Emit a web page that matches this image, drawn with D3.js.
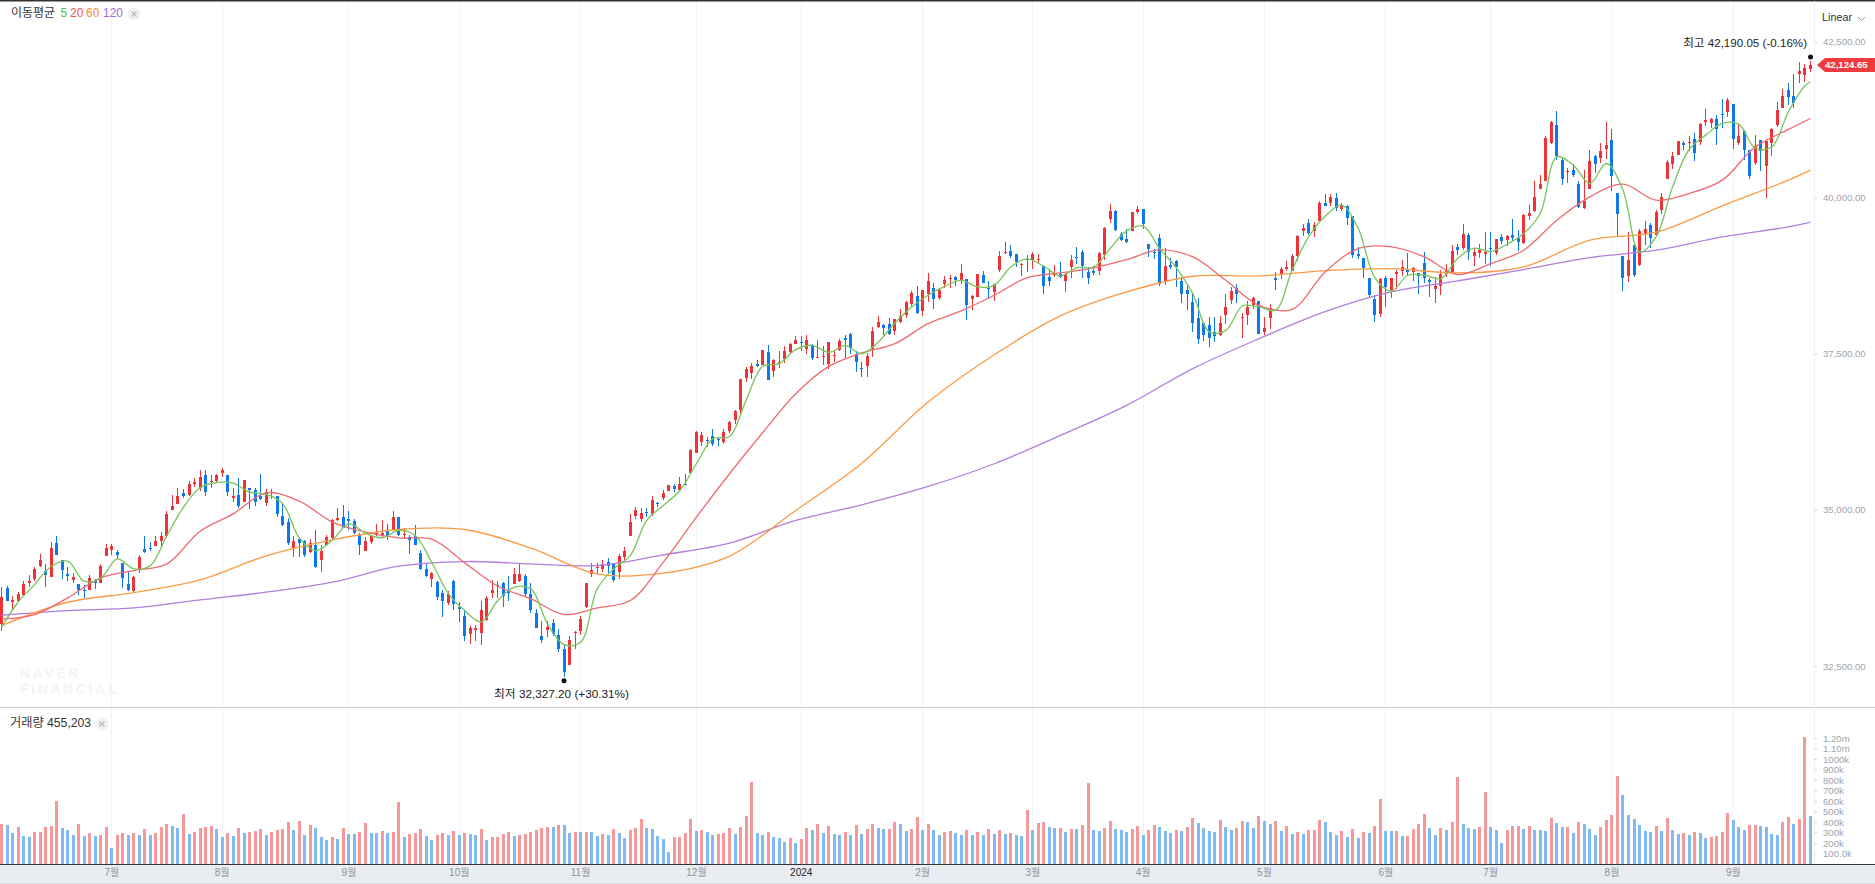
<!DOCTYPE html>
<html>
<head>
<meta charset="utf-8">
<script src="https://cdn.jsdelivr.net/npm/d3@7"></script>
<style>
    html, body { margin: 0; padding: 0; background: #fff; overflow: hidden; }
    svg { display: block; font-family: "Liberation Sans", "Noto Sans CJK KR", sans-serif; }
</style>
</head>
<body>
<svg id="chart" width="1875" height="884"></svg>
<script>
// candle data, one entry per trading day
const opens = [
    33174,33756,33532,33548,33644,33836,33901,34104,34029,33933,34462,34200,33981,33885,33820,33724,33724,33868,33836,34269,
    34365,34333,34157,33820,33698,34045,34381,34397,34414,34494,34574,34991,35087,35263,35231,35407,35343,35552,35439,35455,
    35584,35552,35183,35231,35119,35343,35311,35226,35103,35263,35215,34910,34814,34387,34526,34504,34333,34430,34205,34430,
    34542,34846,34894,34862,34830,34606,34349,34478,34606,34606,34670,34686,34894,34611,34558,34574,34317,34061,33901,33852,
    33676,33516,33868,33452,33308,33019,33083,33035,33243,33676,33804,33836,33724,33820,
    33869,33949,33660,33356,32987,33083,33196,33003,32779,32522,33035,33067,33452,33981,34077,34061,34173,34157,34013,34253,
    34574,34895,34862,34959,34927,35103,35183,35295,35375,35322,35418,35584,35904,36081,36113,36177,36129,36081,36257,36433,
    36594,37107,37187,37331,37315,37523,37219,37347,37411,37523,37652,37684,37571,37620,37433,37454,37331,37459,37555,37748,
    37812,37491,37272,37299,37571,37924,37956,37972,37860,38004,38116,38293,38421,38181,38453,38549,38389,38613,38709,38726,
    38677,38694,38384,38405,38758,38549,38485,38838,39110,39142,39094,38934,39014,38998,38998,38902,38725,38763,38774,38661,
    38886,39046,39126,38806,38822,38822,39078,39655,39783,39415,39335,39463,39767,39815,39254,39126,39351,38661,38918,38982,
    38661,38517,38325,38068,37988,37956,37844,37796,38116,38357,38549,38068,38116,38277,38341,37844,38068,38709,38758,38854,
    38822,39062,39463,39591,39463,39623,39912,39912,39992,39815,39864,39703,39094,39030,38709,38373,38132,38709,38517,38774,
    38822,38854,38806,38790,38951,38678,38534,38582,38774,38806,39207,39191,39399,39063,39111,39106,39191,39111,39367,39319,
    39399,39351,39271,39704,39784,40137,40265,40874,41163,40601,40409,40441,40217,39832,40137,40666,40634,40778,40922,40073,
    39063,38742,39239,38918,39415,39560,39399,39800,40297,40537,40682,40874,40879,40938,40890,41216,41195,41259,41339,41371,
    41499,40874,41066,40762,40553,40922,40505,40874,41163,41435,41724,41627,41980,41964,42060
];
const highs = [
    33772,33788,33628,33692,33868,33965,34082,34296,34136,34478,34574,34200,34093,33986,33820,33804,33965,33901,34136,34456,
    34456,34365,34157,34013,33949,34285,34574,34478,34590,34654,34975,35231,35354,35327,35455,35514,35632,35632,35552,35568,
    35674,35552,35343,35503,35482,35343,35354,35568,35338,35327,35215,35113,34878,34574,34558,34520,34526,34686,34430,34606,
    34862,35023,35071,34975,34857,34633,34558,34606,34782,34846,34777,34975,34894,34718,34606,34766,34365,34141,34013,33868,
    33724,33708,33885,33532,33388,33147,33163,33548,33628,33885,33868,33852,33949,34077,
    34147,33981,33837,33420,33228,33228,33260,33099,32854,32987,33067,33308,33837,34157,34157,34205,34237,34157,34301,34398,
    34927,35039,35023,35023,35215,35119,35311,35391,35407,35520,35568,35969,36257,36241,36161,36289,36161,36289,36417,36594,
    37091,37283,37347,37395,37555,37636,37411,37539,37620,37668,37780,37780,37796,37652,37716,37620,37684,37555,37732,37796,
    37828,37539,37363,37507,37924,38100,37972,38068,38052,38213,38341,38501,38581,38517,38790,38629,38549,38742,38758,38742,
    38934,38694,38437,38774,38822,38661,38613,39142,39287,39238,39094,38950,39078,39126,39094,38902,38854,38918,38966,38790,
    39078,39206,39158,38886,38902,39126,39527,39896,39799,39447,39495,39767,39864,39815,39254,39174,39415,39190,39030,38998,
    38725,38597,38469,38389,37988,38084,38084,38100,38453,38565,38613,38148,38341,38405,38341,38084,38293,38806,38886,38982,
    39094,39399,39575,39655,39607,39944,40056,40056,40072,39912,39880,39703,39206,39030,38709,38437,38709,38742,38709,38838,
    38999,39111,38886,38790,39127,38710,38726,38838,38935,39239,39255,39576,39431,39191,39255,39447,39447,39335,39415,39399,
    39656,39479,39736,39880,40265,40361,40986,41227,41387,40634,40473,40537,40265,40441,40762,40682,40874,41211,41098,40073,
    39063,39447,39239,39495,39624,39592,39800,40073,40601,40730,40906,40906,40986,41034,41195,41419,41275,41323,41579,41595,
    41499,41179,41082,40762,41002,40922,40906,41114,41531,41740,41836,41980,42172,42140,42190.05
];
const lows = [
    33067,33537,33388,33537,33628,33772,33868,34082,33772,33933,34285,33901,33868,33826,33644,33591,33724,33740,33826,34269,
    34285,34221,33751,33708,33692,33986,34317,34349,34414,34414,34552,34991,35087,35183,35226,35359,35306,35215,35343,35439,
    35520,35215,35119,35033,35119,35007,35055,35151,35055,35178,34894,34750,34435,34253,34242,34253,34317,34077,34013,34430,
    34520,34830,34718,34686,34617,34285,34349,34456,34574,34558,34510,34681,34574,34542,34301,34430,34045,33933,33772,33564,
    33292,33484,33404,33211,32907,32859,32907,32843,33227,33596,33596,33452,33548,33820,
    33853,33612,33356,33115,32875,32971,32987,32731,32327.2,32522,32779,33003,33431,33933,33981,34013,33997,33853,33901,34205,
    34574,34862,34814,34879,34895,35039,35151,35295,35279,35295,35407,35584,35904,36017,36001,36017,36017,36049,36225,36369,
    36514,37042,37091,37283,37315,37075,37123,37267,37347,37491,37652,37539,37491,37395,37427,37315,37251,37363,37539,37427,
    37491,37203,37123,37123,37443,37908,37796,37796,37796,37988,38068,38261,38132,38100,38325,38213,38357,38549,38549,38581,
    38624,38036,38197,38405,38629,38373,38341,38806,39094,39030,38886,38742,38806,38854,38934,38453,38581,38725,38709,38485,
    38709,38934,38709,38613,38758,38758,38998,39591,39463,39303,39270,39463,39735,39495,39046,39014,38581,38597,38854,38565,
    38309,38197,37844,37652,37700,37603,37684,37780,37972,38293,38309,37748,37956,38213,37812,37796,37892,38517,38693,38822,
    38822,38982,39383,39399,39367,39623,39864,39864,39783,39783,39559,39030,39014,38709,38389,38004,38084,38245,38389,38533,
    38742,38742,38662,38454,38630,38406,38309,38438,38726,38806,39079,39159,38999,38902,39031,38935,38902,39079,39255,39223,
    39303,39143,39255,39640,39768,40137,40265,40858,40601,40201,40233,40329,39832,39816,40137,40393,40553,40618,40105,39367,
    38502,38646,38726,38902,39239,39191,39399,39736,40297,40457,40682,40762,40746,40585,40842,41146,41114,40842,41114,41291,
    40778,40842,40601,40297,40521,40425,39992,40666,41130,41435,41483,41435,41836,41852,42012
];
const closes = [
    33612,33548,33564,33655,33820,33868,34061,34205,33965,34392,34285,34045,33949,33933,33724,33719,33917,33826,34109,34397,
    34414,34285,33917,33724,33933,34253,34333,34381,34494,34574,34942,35055,35215,35215,35407,35439,35520,35279,35455,35552,
    35632,35279,35215,35055,35471,35311,35119,35167,35279,35290,34942,34766,34462,34494,34462,34285,34462,34093,34339,34558,
    34846,34878,34718,34830,34638,34430,34494,34574,34638,34638,34574,34894,34606,34622,34510,34430,34061,33949,33997,33612,
    33548,33660,33500,33420,32987,33115,33115,33404,33596,33724,33788,33628,33676,33981,
    33981,33660,33404,33115,32923,33131,33019,32779,32410,32923,33046,33260,33837,34045,34093,34141,34109,33885,34269,34334,
    34814,34991,34943,34943,35151,35087,35263,35391,35327,35407,35407,35952,36241,36193,36097,36049,36113,36241,36401,36578,
    37091,37251,37299,37299,37555,37075,37395,37374,37539,37652,37716,37673,37716,37427,37443,37465,37684,37475,37700,37716,
    37587,37363,37261,37459,37860,38004,37913,37812,38052,38100,38325,38469,38148,38517,38661,38373,38517,38677,38720,38677,
    38790,38277,38426,38774,38629,38533,38613,39062,39126,39062,38966,38945,38998,39094,39014,38581,38661,38774,38725,38774,
    38998,39030,38902,38709,38790,39110,39511,39783,39479,39319,39286,39767,39815,39575,39174,39116,38613,38902,38886,38886,
    38453,38453,37988,37732,37796,37748,37780,37988,38245,38501,38453,38084,38255,38389,37812,37908,38229,38677,38854,38886,
    39062,39383,39511,39431,39559,39912,39864,40008,39831,39880,39671,39078,39062,38870,38437,38116,38693,38565,38709,38806,
    38886,38806,38870,38742,38710,38646,38582,38774,38838,39143,39159,39415,39127,39127,39159,39127,39180,39335,39303,39383,
    39351,39287,39720,39752,40008,40217,40954,41211,40666,40297,40425,40361,39848,39944,40585,40537,40746,40842,40345,39736,
    38710,38999,38758,39463,39495,39351,39768,40008,40569,40666,40906,40842,40890,40714,41179,41243,41259,41098,41323,41563,
    40938,40986,40762,40345,40826,40746,40906,41098,41403,41627,41611,41515,42028,42076,42124.65
];

// volume per day, in thousands of shares
const volumes = [
    378,369,293,350,264,254,302,302,350,359,598,340,321,273,378,264,293,264,273,350,149,273,293,273,293,273,331,273,293,350,
    378,359,340,474,283,302,340,350,359,331,254,293,264,340,293,302,312,331,273,302,321,331,398,321,407,273,369,340,254,226,
    254,235,340,283,283,302,388,293,293,312,293,302,588,254,283,293,331,264,226,273,293,273,312,273,293,283,273,331,226,254,
    254,283,302,264,273,283,302,321,340,350,350,369,369,293,302,302,302,302,264,283,273,331,293,245,321,340,
    426,340,331,264,235,111,254,254,293,426,312,321,302,273,283,293,340,283,350,455,779,293,273,302,254,245,207,245,197,235,
    340,321,378,293,359,283,273,302,273,369,283,331,378,340,331,331,398,378,312,331,445,321,378,321,273,302,312,293,273,321,
    273,302,273,331,283,321,283,293,273,264,512,321,388,398,350,340,340,302,331,331,369,770,321,312,340,407,331,321,302,331,
    359,273,321,369,350,312,293,321,312,350,436,388,340,312,302,417,350,321,340,407,398,340,455,407,378,407,
    312,359,283,302,283,321,321,417,398,302,273,312,254,331,245,302,293,359,617,312,312,312,264,264,331,378,474,340,273,340,
    321,398,827,378,340,331,350,684,350,321,197,321,359,359,331,359,321,321,312,436,388,350,350,293,398,378,331,273,350,417,
    464,836,655,464,426,369,312,302,359,312,436,321,283,293,273,302,293,245,254,264,302,483,417,350,321,369,369,359,350,283,
    273,398,445,378,426,1208,455.2
];
// R = up day, B = down day, as coloured in the volume pane
const volumeDirs = [
    "RBBRBBRRRR", "RBBBRBRBRR", "BRRBRBRBRR", "RBBRBRRRRB", "BRBRBRRRBR", "RRRBRBRBBB",
    "RBRBBRRBBR", "BRRBRRRBBR", "RBRBRBBRBR", "RRRBRRRRRR", "BRBBRBRBBR", "BRBBRR",
    "RBBBBBRRRR", "BRBBRRRBRR", "RBBRBBBRBR", "RBRBRBBRBR", "BRRBBRRBBR", "RBRBBRRBBR",
    "BRBRBRBRBB", "RBRRBBRBRB", "RRBBRRBBBR", "RBRRBBBRBR", "RBBBBRBBRR", "BBRBBR",
    "BRBRBRRRBB", "BRBRBRBRRB", "BRBRRRRBBR", "BRRBBBRRBB", "BRRRBRBBBR", "BBRBRBBBRR",
    "RRBBBBBBRB", "RBBRBRBBRR", "RRBBBRRBBB", "BRRBRRB"
].join("").split("");

const monthLabels = ["7월", "8월", "9월", "10월", "11월", "12월", "2024", "2월", "3월", "4월", "5월", "6월", "7월", "8월", "9월"];
const monthDays = [20, 40, 63, 83, 105, 126, 145, 167, 187, 207, 229, 251, 270, 292, 314];

const priceTicks = [32500, 35000, 37500, 40000, 42500];
const volumeTicks = [100, 200, 300, 400, 500, 600, 700, 800, 900, 1000, 1100, 1200];
const volumeTickLabels = ["100.0k", "200k", "300k", "400k", "500k", "600k", "700k", "800k", "900k", "1000k", "1.10m", "1.20m"];

// moving averages, every 3rd / 6th / 12th day plus the last day
const ma5 = [
    33120,33521,33804,34093,34178,33858,33906,34216,34055,34109,34590,35044,35354,35439,35429,35284,35247,35097,34552,34349,
    34520,34777,34627,34552,34670,34590,34162,33665,33388,33206,33548,33762,
    33735,33174,32843,32880,33735,34056,34269,34831,35071,35311,35739,36139,36177,36754,37299,37342,37566,37636,37523,37630,
    37502,37689,37993,38250,38437,38581,
    38677,38571,38597,38891,39019,38902,38747,38880,38886,39185,39468,39543,39185,38880,38464,37849,37876,38266,38250,38197,
    38838,39372,39703,39880,39506,38720,38506,
    38758,38758,38705,39025,39191,39138,39255,39426,39747,40655,40521,40227,40548,40121,39132,39373,40174,40772,41002,41189,
    41179,40789,40815,41376,41793,41857
];
const ma20 = [
    33254,33324,33591,33911,34029,34136,34659,34937,35274,35140,34804,34643,34552,34531,34152,33778,
    33575,33324,33431,33548,34163,34884,35579,36236,36861,37299,37513,37662,37983,
    38186,38437,38720,38795,38875,39009,39164,39051,38677,38277,38213,38811,39185,39212,
    39052,38769,38945,39159,39640,40014,40217,39960,40067,40281,40815,41093,41269
];
const ma60 = [
    33147,33521,33676,33879,34264,34520,34686,34686,
    34387,33976,33986,34259,34991,35749,36727,
    37486,38106,38490,38742,38747,38832,38864,
    38796,38892,39319,39447,39870,40281,40441
];
const ma120 = [
    33313,33388,33430,33559,33682,33842,34098,34173,
    34136,34109,34280,34467,34831,35082,35375,
    35739,36193,36674,37262,37742,38175,38490,
    38667,38849,39041,39159,39373,39533,39608
];

const lastDay = closes.length - 1;
const ma5Days = d3.range(0, lastDay, 3).concat([lastDay]);
const ma20Days = d3.range(0, lastDay, 6).concat([lastDay]);
const ma60Days = d3.range(0, lastDay, 12).concat([lastDay]);
const ma120Days = ma60Days;

const red = "#ee3338";
const blue = "#0e78ea";

const svg = d3.select("#chart");

const xDay = d3.scaleLinear().domain([0, lastDay]).range([1, 1810]);
const yPrice = d3.scaleLinear().domain([32500, 42500]).range([666, 41.6]);
const yVolume = d3.scaleLinear().domain([0, 1200]).range([864, 738]);

const dayX = i => Math.round(xDay(i));

// background bands and frame lines
svg.append("rect").attr("x", 0).attr("y", 865).attr("width", 1875).attr("height", 18).attr("fill", "#e9ecf1");
svg.append("rect").attr("x", 0).attr("y", 883).attr("width", 1875).attr("height", 1).attr("fill", "#dcdee3");

// vertical month gridlines
svg.append("g")
    .selectAll("line")
    .data(monthDays)
    .enter()
    .append("line")
    .attr("x1", d => dayX(d) + 0.5)
    .attr("x2", d => dayX(d) + 0.5)
    .attr("y1", 1)
    .attr("y2", 864)
    .attr("stroke", "#f1f3f6");

// legend background hides the gridline behind it
svg.append("rect").attr("x", 0).attr("y", 2).attr("width", 145).attr("height", 18).attr("fill", "#fff");

// watermark
const mark = svg.append("g")
    .attr("fill", "#f3f4f6")
    .attr("font-weight", "bold")
    .attr("font-size", 14)
    .attr("letter-spacing", 2.6);
mark.append("text").attr("x", 20).attr("y", 678).text("NAVER");
mark.append("text").attr("x", 20).attr("y", 694).text("FINANCIAL");

// volume bars
svg.append("g")
    .attr("shape-rendering", "crispEdges")
    .selectAll("rect")
    .data(volumes)
    .enter()
    .append("rect")
    .attr("x", (d, i) => dayX(i) - 1)
    .attr("width", 3)
    .attr("y", d => yVolume(d))
    .attr("height", d => yVolume(0) - yVolume(d))
    .attr("fill", (d, i) => volumeDirs[i] === "R" ? "#f59899" : "#7fb9f6");

// candles
const candles = svg.append("g")
    .attr("shape-rendering", "crispEdges")
    .selectAll("g")
    .data(closes)
    .enter()
    .append("g")
    .attr("fill", (d, i) => d >= opens[i] ? red : blue);

candles.append("rect")
    .attr("x", (d, i) => dayX(i))
    .attr("width", 1)
    .attr("y", (d, i) => yPrice(highs[i]))
    .attr("height", (d, i) => yPrice(lows[i]) - yPrice(highs[i]));

candles.append("rect")
    .attr("x", (d, i) => dayX(i) - 1)
    .attr("width", 3)
    .attr("y", (d, i) => yPrice(Math.max(d, opens[i])))
    .attr("height", (d, i) => Math.max(1, Math.abs(yPrice(d) - yPrice(opens[i]))));

// moving average lines
function drawLine(days, values, color) {
    const line = d3.line()
        .x((d, i) => xDay(days[i]) + 0.5)
        .y(d => yPrice(d))
        .curve(d3.curveCatmullRom.alpha(0.5));
    svg.append("path")
        .attr("d", line(values))
        .attr("fill", "none")
        .attr("stroke", color)
        .attr("stroke-width", 1.3);
}
drawLine(ma120Days, ma120, "#b37edb");
drawLine(ma60Days, ma60, "#fb9a45");
drawLine(ma20Days, ma20, "#ef6a70");
drawLine(ma5Days, ma5, "#78c559");

// frame lines over the panes
svg.append("rect").attr("x", 0).attr("y", 0).attr("width", 1875).attr("height", 1.5).attr("fill", "#333");
svg.append("rect").attr("x", 0).attr("y", 707).attr("width", 1875).attr("height", 1).attr("fill", "#c9cad3");
svg.append("rect").attr("x", 0).attr("y", 864).attr("width", 1875).attr("height", 1).attr("fill", "#333");
svg.append("rect").attr("x", 1814).attr("y", 1).attr("width", 1).attr("height", 863).attr("fill", "#eceef2");

// right axes
const priceAxis = d3.axisRight(yPrice)
    .tickValues(priceTicks)
    .tickFormat(d3.format(",.2f"))
    .tickSize(3)
    .tickPadding(6);
const volumeAxis = d3.axisRight(yVolume)
    .tickValues(volumeTicks)
    .tickFormat((d, i) => volumeTickLabels[i])
    .tickSize(3)
    .tickPadding(6);

[priceAxis, volumeAxis].forEach(axis => {
    const g = svg.append("g").attr("transform", "translate(1814,0)").call(axis);
    g.select(".domain").remove();
    g.selectAll("line").attr("stroke", "#d5d8de");
    g.selectAll("text")
        .attr("fill", "#9ea3ad")
        .attr("font-size", 9.6)
        .attr("font-family", "'Liberation Sans', sans-serif");
});

// month axis
const monthAxis = d3.axisBottom(xDay)
    .tickValues(monthDays)
    .tickFormat((d, i) => monthLabels[i])
    .tickSize(0)
    .tickPadding(4);
const monthG = svg.append("g").attr("transform", "translate(0,865)").call(monthAxis);
monthG.select(".domain").remove();
monthG.selectAll("text")
    .attr("font-size", 10)
    .attr("font-family", "'Liberation Sans', 'Noto Sans CJK KR', sans-serif")
    .attr("fill", d => d === 145 ? "#222" : "#8d929b");

// legend
const legend = svg.append("g").attr("font-size", 12).attr("dominant-baseline", "middle");
legend.append("text").attr("x", 11).attr("y", 13.5).attr("fill", "#333").text("이동평균");
legend.append("text").attr("x", 60.5).attr("y", 13.5).attr("fill", "#5fbb3f").text("5");
legend.append("text").attr("x", 70).attr("y", 13.5).attr("fill", "#ef4f57").text("20");
legend.append("text").attr("x", 86).attr("y", 13.5).attr("fill", "#fb8c2c").text("60");
legend.append("text").attr("x", 103).attr("y", 13.5).attr("fill", "#a16bd8").text("120");

function closeBadge(cx, cy) {
    svg.append("circle").attr("cx", cx).attr("cy", cy).attr("r", 6.5).attr("fill", "#f1f1f2");
    svg.append("path")
        .attr("d", `M${cx - 2.5},${cy - 2.5}L${cx + 2.5},${cy + 2.5}M${cx + 2.5},${cy - 2.5}L${cx - 2.5},${cy + 2.5}`)
        .attr("stroke", "#b9bbc0")
        .attr("stroke-width", 1.2);
}
closeBadge(134, 14);
closeBadge(102, 724);

svg.append("text")
    .attr("x", 10).attr("y", 724)
    .attr("font-size", 12.2)
    .attr("dominant-baseline", "middle")
    .attr("fill", "#333")
    .text("거래량 455,203");

// scale selector
svg.append("text")
    .attr("x", 1822).attr("y", 18.5)
    .attr("font-size", 10.8)
    .attr("dominant-baseline", "middle")
    .attr("fill", "#333")
    .text("Linear");
svg.append("path")
    .attr("d", "M1858,17L1861.5,20.5L1865,17")
    .attr("fill", "none")
    .attr("stroke", "#999")
    .attr("stroke-width", 1);

// high and low markers
const highDay = highs.indexOf(d3.max(highs));
const lowDay = lows.indexOf(d3.min(lows));
svg.append("circle").attr("cx", xDay(highDay) + 0.5).attr("cy", yPrice(highs[highDay]) - 4).attr("r", 2.5).attr("fill", "#111");
svg.append("circle").attr("cx", xDay(lowDay) + 0.5).attr("cy", yPrice(lows[lowDay]) + 4).attr("r", 2.5).attr("fill", "#111");
svg.append("text")
    .attr("x", 1807).attr("y", 43.5)
    .attr("text-anchor", "end")
    .attr("font-size", 11.6)
    .attr("dominant-baseline", "middle")
    .attr("fill", "#222")
    .text("최고 42,190.05 (-0.16%)");
svg.append("text")
    .attr("x", 494).attr("y", 694.5)
    .attr("font-size", 11.75)
    .attr("dominant-baseline", "middle")
    .attr("fill", "#222")
    .text("최저 32,327.20 (+30.31%)");

// last price flag
const lastY = yPrice(closes[lastDay]);
svg.append("path")
    .attr("d", `M1817,${lastY}L1825,${lastY - 7}L1875,${lastY - 7}L1875,${lastY + 7}L1825,${lastY + 7}Z`)
    .attr("fill", "#ef3a40");
svg.append("text")
    .attr("x", 1825).attr("y", lastY + 0.5)
    .attr("font-size", 9.6)
    .attr("font-weight", "bold")
    .attr("dominant-baseline", "middle")
    .attr("fill", "#fff")
    .text(d3.format(",.2f")(closes[lastDay]));
</script>
</body>
</html>
